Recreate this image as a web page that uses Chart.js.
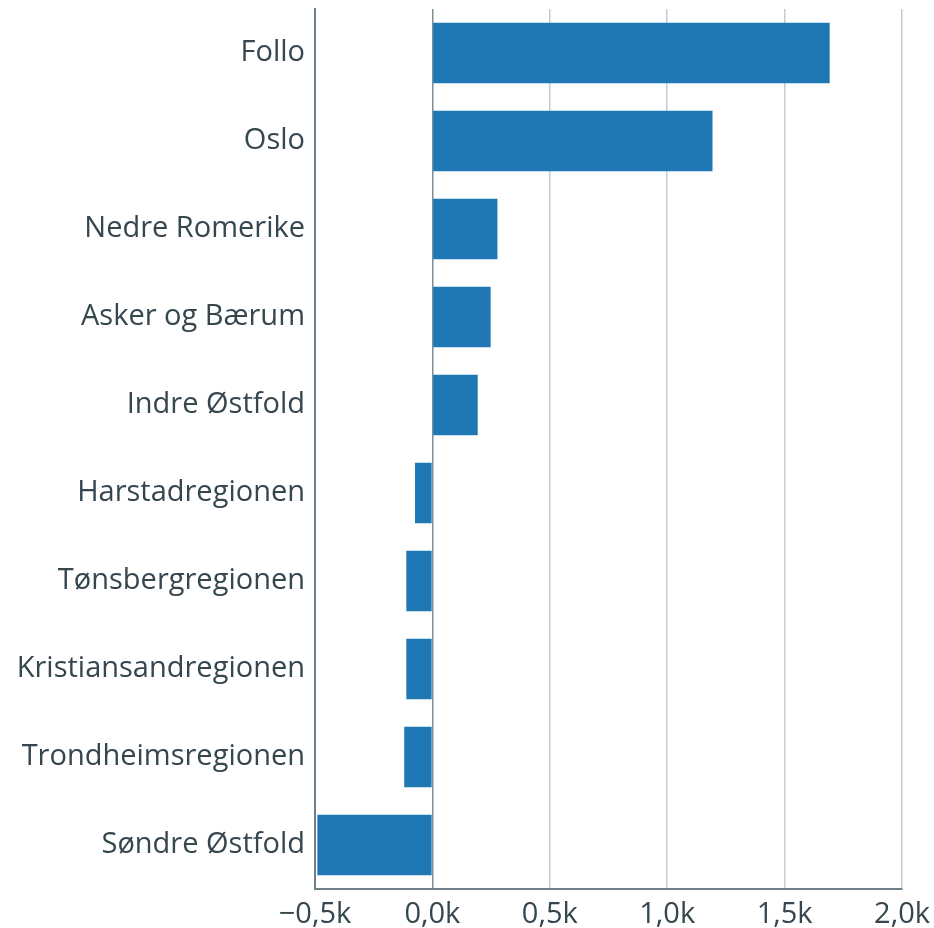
<!DOCTYPE html>
<html>
<head>
<meta charset="utf-8">
<script src="https://cdn.jsdelivr.net/npm/chart.js@4/dist/chart.umd.min.js"></script>
<style>
  html, body { margin: 0; padding: 0; background: #fff; }
  #wrap { width: 934px; height: 928px; }
</style>
</head>
<body>
<div id="wrap"><canvas id="chart"></canvas></div>
<script>
var regions = ["Follo", "Oslo", "Nedre Romerike", "Asker og Bærum", "Indre Østfold",
  "Harstadregionen", "Tønsbergregionen", "Kristiansandregionen", "Trondheimsregionen", "Søndre Østfold"];
var change = [1692, 1193, 277, 248, 193, -74, -111, -111, -120, -490];
var tickValues = [-500, 0, 500, 1000, 1500, 2000];

var textColor = "#35464f";

function fmtK(v) {
  var s = (v / 1000).toFixed(1).replace(".", ",") + "k";
  return s.replace("-", "\u2212");
}

var ctx = document.getElementById("chart").getContext("2d");
new Chart(ctx, {
  type: "bar",
  data: {
    labels: regions,
    datasets: [{
      data: change,
      backgroundColor: "#1f77b4",
      borderWidth: 0,
      barPercentage: 0.69,
      categoryPercentage: 1.0
    }]
  },
  options: {
    indexAxis: "y",
    responsive: true,
    maintainAspectRatio: false,
    animation: false,
    layout: { padding: { top: 9, right: 0, left: 0, bottom: 0 } },
    plugins: { legend: { display: false }, tooltip: { enabled: false } },
    scales: {
      x: {
        min: -500,
        max: 2000,
        afterBuildTicks: function(scale) {
          scale.ticks = tickValues.map(function(v) { return { value: v }; });
        },
        grid: {
          color: function(c) { return c.tick && c.tick.value === 0 ? "#7d8e9b" : "#c3cdd4"; },
          lineWidth: 1.5,
          drawTicks: false
        },
        border: { color: "#6f808d", width: 2 },
        ticks: {
          color: textColor,
          padding: 8,
          font: { family: "'Open Sans'", size: 29 },
          maxRotation: 0,
          callback: function(v) { return fmtK(v); }
        },
        afterFit: function(scale) {
          scale.height = 39;
          scale.paddingLeft = 0;
          scale.paddingRight = 32;
        }
      },
      y: {
        grid: { display: false, drawTicks: false },
        border: { color: "#6f808d", width: 2 },
        ticks: {
          color: textColor,
          padding: 10,
          font: { family: "'Open Sans'", size: 29 }
        },
        afterFit: function(scale) {
          scale.width = 315;
          scale.paddingTop = 0;
          scale.paddingBottom = 0;
        }
      }
    }
  }
});
</script>
</body>
</html>
